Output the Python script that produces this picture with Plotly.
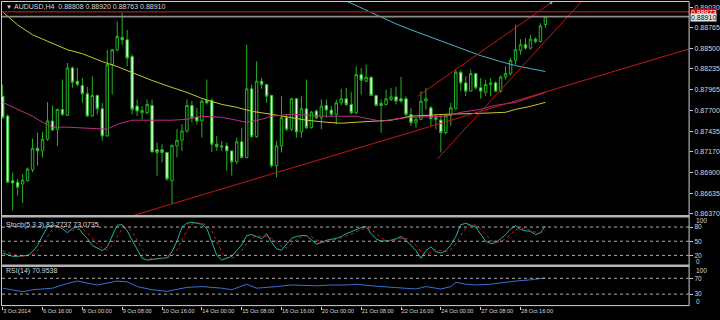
import plotly.graph_objects as go

# ---------------- data ----------------
bars = list(range(110))
opens = [0.87885,0.87629,0.86796,0.86775,0.86753,0.86796,0.86937,0.87214,0.87180,0.87330,
0.87565,0.87458,0.87714,0.87637,0.88248,0.88077,0.88021,0.87915,0.87629,0.87893,
0.87722,0.87372,0.88291,0.88483,0.88641,0.88611,0.88397,0.87757,0.87671,0.87671,
0.87765,0.87193,0.87193,0.87159,0.86796,0.87244,0.87317,0.87436,0.87765,0.87616,
0.87565,0.87829,0.87829,0.87266,0.87244,0.87244,0.87180,0.87039,0.87296,0.87095,
0.87979,0.87364,0.88077,0.88034,0.87893,0.86988,0.87244,0.87607,0.87458,0.87851,
0.87424,0.87722,0.87479,0.87693,0.87607,0.87765,0.87705,0.87650,0.87799,0.87851,
0.87778,0.87671,0.88162,0.88077,0.88128,0.87893,0.87791,0.87778,0.87842,0.87876,
0.87851,0.87851,0.87650,0.87543,0.87586,0.87821,0.87735,0.87607,0.87577,0.87415,
0.87637,0.87722,0.88193,0.88056,0.87949,0.88175,0.87992,0.87936,0.88034,0.88056,
0.87949,0.88132,0.88175,0.88346,0.88474,0.88547,0.88504,0.88619,0.88589,0.88808]
highs = [0.88034,0.87650,0.86903,0.86817,0.86881,0.86967,0.87338,0.87415,0.87424,0.87808,
0.87765,0.87722,0.88098,0.88312,0.88269,0.88248,0.88120,0.88004,0.88141,0.87906,
0.87799,0.88483,0.88491,0.88845,0.88965,0.88739,0.88419,0.87842,0.87757,0.87842,
0.87842,0.87287,0.87266,0.87167,0.87257,0.87458,0.87522,0.87842,0.87821,0.87735,
0.87842,0.88098,0.87855,0.87372,0.87308,0.87287,0.87180,0.87351,0.87479,0.88547,
0.88034,0.88333,0.88120,0.88034,0.87906,0.87308,0.87885,0.87650,0.87863,0.87863,
0.87885,0.88098,0.87693,0.87714,0.87842,0.87842,0.87757,0.87842,0.87979,0.87992,
0.87936,0.88269,0.88248,0.88291,0.88141,0.87906,0.87842,0.87970,0.87992,0.88004,
0.88132,0.87885,0.87735,0.87607,0.87949,0.87992,0.87757,0.87650,0.87650,0.87650,
0.87799,0.88227,0.88218,0.88141,0.88227,0.88184,0.88120,0.88098,0.88120,0.88077,
0.88150,0.88269,0.88376,0.88803,0.88619,0.88632,0.88675,0.88641,0.88824,0.88920]
lows = [0.87595,0.86766,0.86412,0.86604,0.86510,0.86783,0.86903,0.86988,0.87095,0.87308,
0.87436,0.87244,0.87629,0.87629,0.87992,0.88013,0.87799,0.87620,0.87620,0.87650,
0.87308,0.87364,0.87906,0.88461,0.88547,0.88269,0.87650,0.87629,0.87586,0.87650,
0.87159,0.86860,0.87031,0.86796,0.86497,0.87095,0.87180,0.87415,0.87543,0.87522,
0.87351,0.87778,0.87167,0.87180,0.87180,0.86924,0.86860,0.87010,0.87082,0.87082,
0.87351,0.87351,0.87979,0.87799,0.86967,0.86839,0.87159,0.87436,0.87436,0.87351,
0.87351,0.87458,0.87466,0.87586,0.87458,0.87607,0.87629,0.87522,0.87765,0.87757,
0.87650,0.87650,0.87906,0.88064,0.87885,0.87757,0.87415,0.87765,0.87821,0.87778,
0.87799,0.87607,0.87500,0.87479,0.87577,0.87714,0.87500,0.87458,0.87159,0.87394,
0.87500,0.87714,0.87949,0.87885,0.87949,0.87970,0.87851,0.87885,0.87885,0.87936,
0.87927,0.88098,0.88150,0.88291,0.88419,0.88483,0.88483,0.88568,0.88576,0.88763]
closes = [0.87607,0.86775,0.86766,0.86711,0.86804,0.86946,0.87214,0.87180,0.87330,0.87565,
0.87449,0.87714,0.87650,0.88248,0.88064,0.88034,0.87915,0.87629,0.87893,0.87722,
0.87372,0.88291,0.88483,0.88653,0.88611,0.88376,0.87714,0.87693,0.87701,0.87778,
0.87167,0.87159,0.87159,0.86817,0.87253,0.87317,0.87436,0.87765,0.87607,0.87565,
0.87821,0.87799,0.87266,0.87236,0.87232,0.87180,0.87039,0.87296,0.87095,0.87979,
0.87364,0.88077,0.88034,0.87885,0.86988,0.87244,0.87607,0.87458,0.87851,0.87424,
0.87722,0.87479,0.87680,0.87607,0.87757,0.87705,0.87650,0.87799,0.87851,0.87778,
0.87671,0.88162,0.88090,0.88128,0.87893,0.87765,0.87765,0.87851,0.87876,0.87821,
0.87821,0.87650,0.87543,0.87586,0.87821,0.87851,0.87595,0.87586,0.87415,0.87637,
0.87735,0.88193,0.88056,0.87949,0.88175,0.87992,0.87949,0.88034,0.88056,0.87949,
0.88132,0.88175,0.88346,0.88483,0.88547,0.88504,0.88619,0.88589,0.88790,0.88910]

# moving averages (sampled at bar indices)
yellow_idx = [0,3,6,10,13,16,20,23,26,30,34,37,40,44,47,50,54,58,61,65,68,71,75,78,82,89,96,101,103,106,109]
yellow_val = [0.88970,0.88803,0.88675,0.88560,0.88483,0.88432,0.88330,0.88266,0.88189,0.88087,0.87997,0.87933,
              0.87856,0.87779,0.87741,0.87690,0.87651,0.87613,0.87575,0.87549,0.87536,0.87549,0.87562,0.87575,
              0.87626,0.87651,0.87664,0.87677,0.87715,0.87754,0.87805]
magenta_idx = [0,3,6,8,10,13,16,19,21,23,26,30,34,37,40,44,47,49,52,54,58,61,65,68,71,74,76,80,82,89,92,96,99,103,106,109]
magenta_val = [0.87805,0.87715,0.87626,0.87549,0.87485,0.87485,0.87472,0.87459,0.87459,0.87523,0.87575,0.87575,
               0.87575,0.87587,0.87626,0.87613,0.87575,0.87549,0.87587,0.87626,0.87651,0.87638,0.87626,0.87626,
               0.87626,0.87587,0.87562,0.87600,0.87613,0.87626,0.87677,0.87715,0.87767,0.87805,0.87869,0.87933]
cyan_idx = [66,69,74,79,82,88,93,96,100,103,106,109]
cyan_val = [0.89200,0.89111,0.88970,0.88816,0.88739,0.88599,0.88483,0.88407,0.88330,0.88279,0.88240,0.88202]

# trend lines (bar index, price)
trend_long = ([25, 138], [0.86324, 0.88497])
channel_upper = ([83.3, 111.5], [0.87882, 0.89149])
channel_lower = ([87.3, 116.9], [0.87075, 0.89149])
level_red = 0.88973
level_bid = 0.88910

# stochastic (5,3,3)
stoch_k = [25,22,18,18,19,20,28,41,62,80, 84,82,76,68,77,81,67,56,41,35,
           30,38,60,84,85,72,52,33,14,10, 12,13,14,15,28,50,80,88,90,88,
           86,77,50,20,10,14,18,30,42,62, 64,60,55,66,48,34,31,44,56,60,
           62,62,52,44,47,52,54,56,60,66, 70,75,79,81,66,55,50,51,52,55,
           60,52,42,30,14,30,38,28,25,30, 42,60,85,88,84,80,65,50,45,47,
           55,64,76,83,75,72,71,64,68,82.27]
stoch_d = [30,26,22,19,18,19,22,30,44,61, 75,82,81,75,73,75,76,68,55,44,
           35,31,43,61,76,80,70,52,33,19, 12,12,13,14,19,31,53,73,86,89,
           88,84,71,49,27,15,14,21,30,45, 56,62,60,60,56,49,38,36,44,53,
           59,61,59,53,48,48,51,54,57,61, 65,70,75,78,75,67,57,52,51,53,
           56,56,51,41,29,20,27,33,30,28, 32,44,62,78,86,84,76,65,53,47,
           49,55,65,74,78,77,73,69,68,73.07]
stoch_levels = [80, 50, 20]

# RSI(14)
rsi_idx = [0,3,4,6,10,13,15,19,23,25,27,30,33,37,40,44,46,49,51,55,58,63,66,69,71,75,78,81,83,85,88,90,91,93,95,98,101,103,106,109]
rsi_val = [45,37,36,41,45,57,63,53,63,61,49,41,37,47,49,45,41,55,45,49,53,51,53,53,55,50,47,45,43,49,43,49,60,55,53,55,60,63,66,70.95]
rsi_levels = [70, 30]

price_ticks = [0.86370, 0.86635, 0.86900, 0.87170, 0.87435, 0.87700, 0.87965, 0.88235, 0.88500, 0.88765, 0.89030]
date_tick_bars = [0, 8, 16, 24, 32, 40, 48, 56, 64, 72, 80, 88, 96, 104]
date_labels = ["3 Oct 2014", "6 Oct 16:00", "8 Oct 00:00", "9 Oct 08:00", "10 Oct 16:00", "14 Oct 00:00",
               "15 Oct 08:00", "16 Oct 16:00", "20 Oct 00:00", "21 Oct 08:00", "22 Oct 16:00",
               "24 Oct 00:00", "27 Oct 08:00", "28 Oct 16:00"]
title_text = "AUDUSD,H4  0.88808 0.88920 0.88763 0.88910"
stoch_text = "Stoch(5,3,3) 82.2737 73.0735"
rsi_text = "RSI(14) 70.9538"

# ---------------- layout helpers ----------------
W, H = 720, 320
FONT = "Liberation Sans"
TXT = "#d8d8d8"
def fx(p): return p / W
def fy(p): return 1 - p / H

XR = [-0.14, 137.86]
XD = [fx(2), fx(692)]

fig = go.Figure()

fig.add_trace(go.Candlestick(
    x=bars, open=opens, high=highs, low=lows, close=closes,
    increasing=dict(line=dict(color="#22b422", width=1), fillcolor="#000000"),
    decreasing=dict(line=dict(color="#22b422", width=1), fillcolor="#e6ffe0"),
    whiskerwidth=0, xaxis="x", yaxis="y", hoverinfo="skip"))

for idx, val, col in [(yellow_idx, yellow_val, "#c8c828"),
                      (magenta_idx, magenta_val, "#c02c86"),
                      (cyan_idx, cyan_val, "#48b2cc")]:
    fig.add_trace(go.Scatter(x=idx, y=val, mode="lines", line=dict(color=col, width=1),
                             xaxis="x", yaxis="y", hoverinfo="skip"))

for xs, ys in [trend_long, channel_upper, channel_lower]:
    fig.add_trace(go.Scatter(x=xs, y=ys, mode="lines", line=dict(color="#c81414", width=1),
                             xaxis="x", yaxis="y", hoverinfo="skip"))

fig.add_trace(go.Scatter(x=XR, y=[level_red, level_red], mode="lines",
                         line=dict(color="#a01010", width=1.6), xaxis="x", yaxis="y", hoverinfo="skip"))
fig.add_trace(go.Scatter(x=XR, y=[level_bid, level_bid], mode="lines",
                         line=dict(color="#8a8a8a", width=1.6), xaxis="x", yaxis="y", hoverinfo="skip"))

# stochastic
fig.add_trace(go.Scatter(x=bars, y=stoch_k, mode="lines", line=dict(color="#20b2aa", width=1),
                         xaxis="x2", yaxis="y2", hoverinfo="skip"))
fig.add_trace(go.Scatter(x=bars, y=stoch_d, mode="lines", line=dict(color="#d01c1c", width=1, dash="dot"),
                         xaxis="x2", yaxis="y2", hoverinfo="skip"))
# RSI
fig.add_trace(go.Scatter(x=rsi_idx, y=rsi_val, mode="lines", line=dict(color="#3a6ed8", width=1),
                         xaxis="x3", yaxis="y3", hoverinfo="skip"))

shapes = []
for lv in stoch_levels:
    shapes.append(dict(type="line", xref="x2 domain", yref="y2", x0=0, x1=1, y0=lv, y1=lv,
                       line=dict(color="#b0b0b0", width=1, dash="dot")))
for lv in rsi_levels:
    shapes.append(dict(type="line", xref="x3 domain", yref="y3", x0=0, x1=1, y0=lv, y1=lv,
                       line=dict(color="#b0b0b0", width=1, dash="dot")))
# frame
frame = "#d0d0d0"
shapes += [
    dict(type="line", xref="paper", yref="paper", x0=fx(1), x1=fx(692), y0=fy(1.5), y1=fy(1.5), line=dict(color=frame, width=1)),
    dict(type="line", xref="paper", yref="paper", x0=fx(1.5), x1=fx(1.5), y0=fy(1.5), y1=fy(307.5), line=dict(color=frame, width=1)),
    dict(type="line", xref="paper", yref="paper", x0=fx(692), x1=fx(692), y0=fy(1.5), y1=fy(307.5), line=dict(color=frame, width=1)),
    dict(type="line", xref="paper", yref="paper", x0=fx(1), x1=fx(692), y0=fy(217.5), y1=fy(217.5), line=dict(color="#b4b4b4", width=2.5)),
    dict(type="line", xref="paper", yref="paper", x0=fx(1), x1=fx(692), y0=fy(267.5), y1=fy(267.5), line=dict(color="#b4b4b4", width=2.5)),
    dict(type="line", xref="paper", yref="paper", x0=fx(1), x1=fx(692), y0=fy(307.5), y1=fy(307.5), line=dict(color=frame, width=1)),
]

ann = []
def A(x, y, text, size=7, color=TXT, xanchor="left", family=FONT, **kw):
    ann.append(dict(xref="paper", yref="paper", x=fx(x), y=fy(y), text=text, showarrow=False,
                    xanchor=xanchor, yanchor="middle", font=dict(family=family, size=size, color=color), **kw))

A(4, 7, "▼", size=6)
A(12, 7, title_text)
A(4, 226, stoch_text)
A(4, 273, rsi_text)
A(553, 3.5, "▼", size=6, color="#9a9a9a", xanchor="center")
A(693, 12.5, "0.88973", color="#ffffff", bgcolor="#e00000", borderpad=0)
A(693, 18, "0.88910", color="#000000", bgcolor="#e8e8e8", borderpad=0)
A(697, 222, "100", size=6.5); A(697, 263, "0", size=6.5)
A(697, 272, "100", size=6.5); A(697, 303.5, "0", size=6.5)

axis_common = dict(showgrid=False, zeroline=False, showline=False, fixedrange=True)
ytick_font = dict(family=FONT, size=7, color=TXT)

fig.update_layout(
    width=W, height=H, margin=dict(l=0, r=0, t=0, b=0),
    paper_bgcolor="#000000", plot_bgcolor="#000000", showlegend=False,
    xaxis=dict(domain=XD, range=XR, anchor="y", showticklabels=False, rangeslider=dict(visible=False), **axis_common),
    xaxis2=dict(domain=XD, range=XR, anchor="y2", showticklabels=False, **axis_common),
    xaxis3=dict(domain=XD, range=XR, anchor="y3", tickmode="array", tickvals=date_tick_bars, ticktext=date_labels,
                ticks="outside", ticklen=3, tickcolor=frame, ticklabelposition="outside right", tickangle=0,
                tickfont=dict(family=FONT, size=5.6, color=TXT), **axis_common),
    yaxis=dict(domain=[fy(216.5), fy(2)], range=[0.86352, 0.89098], side="right", anchor="x",
               tickmode="array", tickvals=price_ticks, ticktext=[f"{v:.5f}" for v in price_ticks],
               ticks="outside", ticklen=3, tickcolor=frame, tickfont=ytick_font, **axis_common),
    yaxis2=dict(domain=[fy(266.5), fy(218.5)], range=[0, 101], side="right", anchor="x2",
                tickmode="array", tickvals=stoch_levels, ticks="outside", ticklen=3, tickcolor=frame,
                tickfont=dict(family=FONT, size=6.5, color=TXT), **axis_common),
    yaxis3=dict(domain=[fy(307.5), fy(268.5)], range=[1, 99], side="right", anchor="x3",
                tickmode="array", tickvals=rsi_levels, ticks="outside", ticklen=3, tickcolor=frame,
                tickfont=dict(family=FONT, size=6.5, color=TXT), **axis_common),
    shapes=shapes, annotations=ann,
)

fig.write_html("out.html")
